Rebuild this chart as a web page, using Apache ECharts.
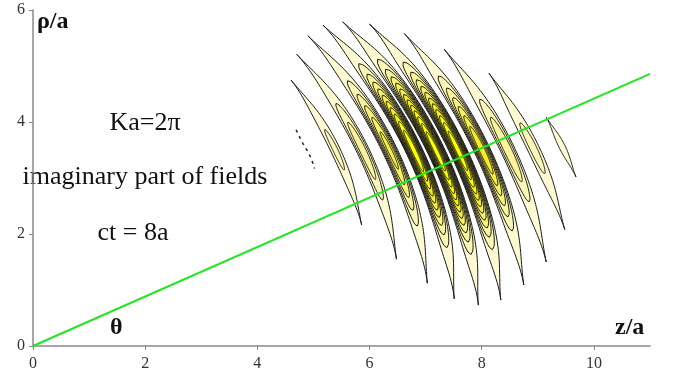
<!DOCTYPE html>
<html>
<head>
<meta charset="utf-8">
<style>
  html, body { margin: 0; padding: 0; background: #fff; }
  #chart { width: 675px; height: 381px; }
</style>
<script src="https://cdn.jsdelivr.net/npm/echarts@6/dist/echarts.min.js"></script>
</head>
<body>
<div id="chart"></div>
<script>
// tick labels
const zTicks = [0, 2, 4, 6, 8, 10]
const rhoTicks = [0, 2, 4, 6]

// contour bands (z/a, rho/a): upper tip, lower tip
const bandTopTips = [
  [4.60, 4.75], [4.70, 5.21], [4.90, 5.54], [5.17, 5.73], [5.52, 5.79],
  [6.00, 5.75], [6.62, 5.58], [7.33, 5.30], [8.13, 4.87], [9.15, 4.09]
]
const bandBottomTips = [
  [5.86, 2.16], [6.48, 1.55], [7.03, 1.12], [7.51, 0.84], [7.94, 0.73],
  [8.34, 0.82], [8.75, 1.09], [9.15, 1.50], [9.48, 2.08], [9.68, 3.02]
]
// widest width of the outer contour of each band (in a)
const bandWidths = [0.17, 0.22, 0.26, 0.29, 0.30, 0.30, 0.28, 0.25, 0.21, 0.11]
// peak of each band in contour levels
const bandPeaks = [2.4, 3.8, 6.5, 12, 14, 13, 8, 4, 2.6, 1.2]

// small broken contour left of the packet
const fragment = [[4.69, 3.86], [4.75, 3.74], [4.81, 3.62], [4.90, 3.47], [4.96, 3.35], [5.02, 3.17]]

// direction line theta
const thetaLine = [[0, 0], [11, 4.86]]

const levelColors = ['#fdfad1', '#fbf7b6', '#faf59a', '#f9f37c', '#f8f15e', '#f7ef40',
  '#f6ed22', '#f7ee08', '#fcf700', '#ffff00']

const serif = "'Liberation Serif', 'Times New Roman', serif"

const chart = echarts.init(document.getElementById('chart'))

function renderBand (params, api) {
  const z1 = api.value(0), p1 = api.value(1), z2 = api.value(2), p2 = api.value(3)
  const outer = api.value(4), peak = api.value(5)
  const r1 = Math.hypot(z1, p1), a1 = Math.atan2(p1, z1)
  const r2 = Math.hypot(z2, p2), a2 = Math.atan2(p2, z2)
  const halfW = outer / ((2 / Math.PI) * Math.acos(1 / peak)) / 2
  const children = []
  const nRings = Math.max(1, Math.floor(peak))
  const pw = 3.5
  for (let k = 1; k <= nRings; k++) {
    let s0 = 0
    if (k > 1) s0 = Math.asin(Math.pow((k - 1) / (peak - 1), 1 / pw)) / Math.PI
    const s1 = 1 - s0
    const left = [], right = []
    const N = 70
    for (let i = 0; i <= N; i++) {
      const s = s0 + (s1 - s0) * i / N
      const g = 1 + (peak - 1) * Math.pow(Math.sin(Math.PI * s), pw)
      const h = halfW * (2 / Math.PI) * Math.acos(Math.min(1, k / g))
      const r = r1 + (r2 - r1) * s
      const a = a1 + (a2 - a1) * s
      left.push(api.coord([(r - h) * Math.cos(a), (r - h) * Math.sin(a)]))
      right.push(api.coord([(r + h) * Math.cos(a), (r + h) * Math.sin(a)]))
    }
    children.push({
      type: 'polygon',
      shape: { points: left.concat(right.reverse()) },
      style: {
        fill: levelColors[Math.min(k - 1, levelColors.length - 1)],
        stroke: '#1c1c1c',
        lineWidth: 1
      }
    })
  }
  return { type: 'group', children: children }
}

chart.setOption({
  backgroundColor: '#fff',
  animation: false,
  grid: { left: 33, right: 25, top: 10, bottom: 35 },
  xAxis: {
    type: 'value',
    min: 0,
    max: 11,
    interval: 2,
    axisLine: { show: true, lineStyle: { color: '#8a8a8a', width: 1.5 } },
    axisTick: { show: true, length: 4, customValues: zTicks, lineStyle: { color: '#8a8a8a' } },
    axisLabel: { customValues: zTicks, color: '#333', fontFamily: serif, fontSize: 16, margin: 10 },
    splitLine: { show: false }
  },
  yAxis: {
    type: 'value',
    min: 0,
    max: 6,
    interval: 2,
    axisLine: { show: true, lineStyle: { color: '#8a8a8a', width: 1.5 } },
    axisTick: { show: true, length: 4, customValues: rhoTicks, lineStyle: { color: '#8a8a8a' } },
    axisLabel: { customValues: rhoTicks, color: '#333', fontFamily: serif, fontSize: 16, margin: 8 },
    splitLine: { show: false }
  },
  graphic: [
    { type: 'text', left: 37, top: 10, style: { text: 'ρ/a', font: 'bold 24px ' + serif, fill: '#111' } },
    { type: 'text', left: 615, top: 316, style: { text: 'z/a', font: 'bold 24px ' + serif, fill: '#111' } },
    { type: 'text', left: 110, top: 316, style: { text: 'θ', font: 'bold 24px ' + serif, fill: '#111' } },
    { type: 'text', x: 145, y: 123, style: { text: 'Ka=2π', font: '26px ' + serif, fill: '#111', align: 'center', verticalAlign: 'middle' } },
    { type: 'text', x: 145, y: 177, style: { text: 'imaginary part of fields', font: '26px ' + serif, fill: '#111', align: 'center', verticalAlign: 'middle' } },
    { type: 'text', x: 133, y: 233, style: { text: 'ct = 8a', font: '26px ' + serif, fill: '#111', align: 'center', verticalAlign: 'middle' } }
  ],
  series: [
    {
      type: 'custom',
      renderItem: renderBand,
      encode: { x: [0, 2], y: [1, 3] },
      data: bandTopTips.map((t, i) => [t[0], t[1], bandBottomTips[i][0], bandBottomTips[i][1], bandWidths[i], bandPeaks[i]]),
      z: 2
    },
    {
      type: 'line',
      data: fragment,
      symbol: 'none',
      lineStyle: { color: '#222', width: 1.5, type: [3, 4] },
      z: 3
    },
    {
      type: 'line',
      data: thetaLine,
      symbol: 'none',
      lineStyle: { color: '#22e622', width: 2 },
      z: 5
    }
  ]
})
</script>
</body>
</html>
